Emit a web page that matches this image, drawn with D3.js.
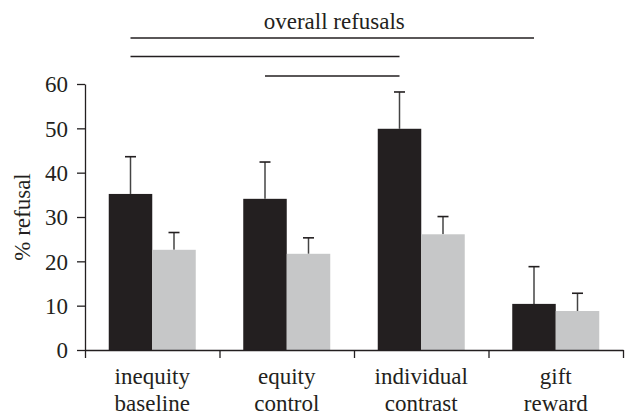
<!DOCTYPE html>
<html>
<head>
<meta charset="utf-8">
<script src="https://cdn.jsdelivr.net/npm/d3@7"></script>
<style>
  body { margin: 0; background: #fff; }
  text { font-family: "Liberation Serif", "DejaVu Serif", serif; fill: #231f20; }
</style>
</head>
<body>
<div id="chart"></div>
<script>
// data
var categories = ["inequity baseline", "equity control", "individual contrast", "gift reward"];
var labelLines = [["inequity", "baseline"], ["equity", "control"], ["individual", "contrast"], ["gift", "reward"]];
var series = ["first", "second"];
var firstValues = [35.2, 34.1, 49.9, 10.4];
var firstErrors = [8.4, 8.3, 8.3, 8.4];
var secondValues = [22.6, 21.7, 26.1, 8.8];
var secondErrors = [3.9, 3.6, 4.0, 4.0];
var yTicks = [0, 10, 20, 30, 40, 50, 60];
var sigPairs = [[0, 3], [0, 2], [1, 2]];

var width = 628, height = 417;
var plotLeft = 85, plotRight = 623, plotTop = 84, plotBottom = 350;
var colors = { first: "#231f20", second: "#c6c7c8" };

var svg = d3.select("#chart").append("svg").attr("width", width).attr("height", height);

var x0 = d3.scaleBand().domain(categories).range([plotLeft, plotRight]).padding(0);
var x1 = d3.scaleBand().domain(series).range([0, x0.bandwidth()]).paddingInner(0).paddingOuter(0.546);
var y = d3.scaleLinear().domain([0, 60]).range([plotBottom, plotTop]);

var rows = categories.map(function (c, i) {
    return [
        { cat: c, key: "first", v: firstValues[i], e: firstErrors[i] },
        { cat: c, key: "second", v: secondValues[i], e: secondErrors[i] }
    ];
});

// error bars (only upward) drawn under the bars
var errs = svg.append("g");
rows.forEach(function (r) {
    r.forEach(function (d) {
        var cx = x0(d.cat) + x1(d.key) + x1.bandwidth() / 2;
        errs.append("line").attr("x1", cx).attr("x2", cx)
            .attr("y1", y(d.v)).attr("y2", y(d.v + d.e))
            .attr("stroke", "#444").attr("stroke-width", 1.5);
        errs.append("line").attr("x1", cx - 5.5).attr("x2", cx + 5.5)
            .attr("y1", y(d.v + d.e)).attr("y2", y(d.v + d.e))
            .attr("stroke", "#231f20").attr("stroke-width", 1.6);
    });
});

svg.append("g").selectAll("g").data(rows).join("g")
    .selectAll("rect").data(function (d) { return d; }).join("rect")
    .attr("x", function (d) { return x0(d.cat) + x1(d.key); })
    .attr("y", function (d) { return y(d.v); })
    .attr("width", x1.bandwidth())
    .attr("height", function (d) { return y(0) - y(d.v); })
    .attr("fill", function (d) { return colors[d.key]; });

// y axis
var yAxis = svg.append("g").attr("transform", "translate(" + plotLeft + ",0)")
    .call(d3.axisLeft(y).tickValues(yTicks).tickSize(8).tickSizeOuter(0).tickPadding(9));
yAxis.selectAll("text").style("font-size", "23px").attr("dy", "0.34em");

// x axis, ticks between the groups
var xb = d3.scaleLinear().domain([0, categories.length]).range([plotLeft, plotRight]);
var xAxis = svg.append("g").attr("transform", "translate(0," + plotBottom + ")")
    .call(d3.axisBottom(xb).ticks(categories.length).tickFormat("").tickSize(8).tickSizeOuter(0));
svg.selectAll(".domain, .tick line").attr("stroke", "#231f20").attr("stroke-width", 1.3);

var xl = svg.append("g").selectAll("text").data(categories).join("text")
    .attr("text-anchor", "middle")
    .style("font-size", "23px")
    .attr("transform", function (d) { return "translate(" + (x0(d) + x0.bandwidth() / 2) + ",0)"; });
xl.selectAll("tspan").data(function (d) { return labelLines[categories.indexOf(d)]; }).join("tspan")
    .attr("x", 0)
    .attr("y", function (d, i) { return 384 + i * 27; })
    .text(function (d) { return d; });

svg.append("text")
    .attr("transform", "translate(30," + ((plotTop + plotBottom) / 2) + ") rotate(-90)")
    .attr("text-anchor", "middle")
    .style("font-size", "23px")
    .text("% refusal");

// significance lines over black bars
var lineY = [38, 56.5, 76];
var cx = function (i) { return x0(categories[i]) + x1("first") + x1.bandwidth() / 2; };
svg.append("g").selectAll("line").data(sigPairs).join("line")
    .attr("x1", function (d) { return cx(d[0]); })
    .attr("x2", function (d) { return cx(d[1]); })
    .attr("y1", function (d, i) { return lineY[i]; })
    .attr("y2", function (d, i) { return lineY[i]; })
    .attr("stroke", "#231f20").attr("stroke-width", 1.3);

svg.append("text")
    .attr("x", (cx(0) + cx(3)) / 2 + 2)
    .attr("y", 29)
    .attr("text-anchor", "middle")
    .style("font-size", "23px")
    .text("overall refusals");
</script>
</body>
</html>
